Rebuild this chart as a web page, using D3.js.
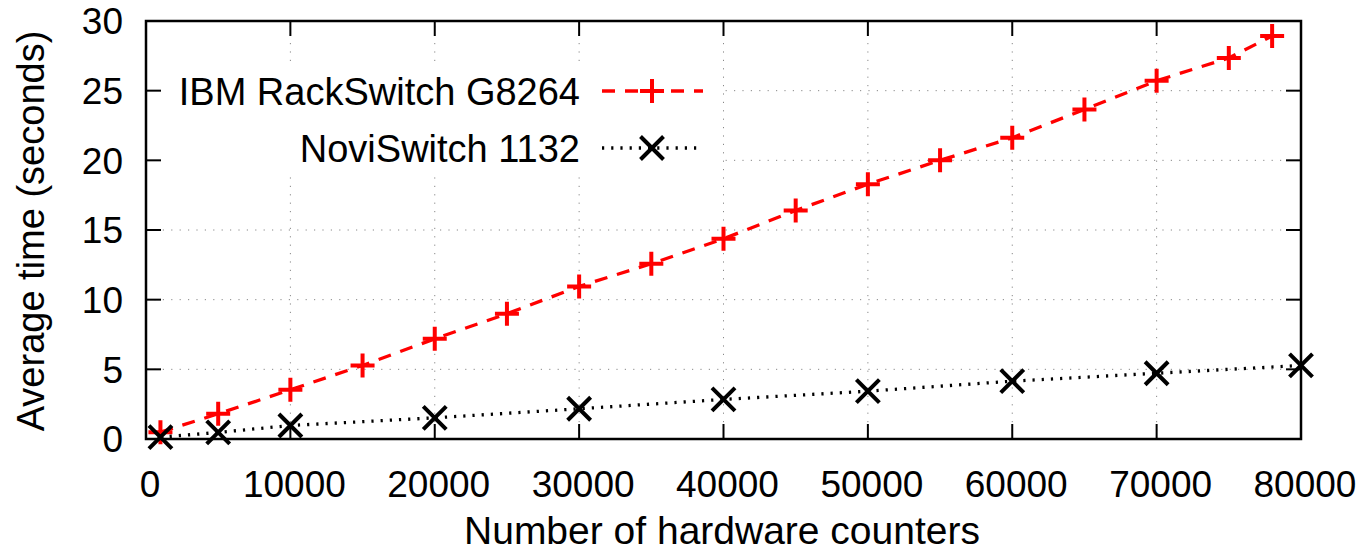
<!DOCTYPE html>
<html>
<head>
<meta charset="utf-8">
<script src="https://cdn.jsdelivr.net/npm/d3@7"></script>
<style>
  html, body { margin: 0; padding: 0; background: #fff; }
  svg { display: block; font-family: "Liberation Sans", Arial, Helvetica, sans-serif; }
</style>
</head>
<body>
<svg id="chart" width="1363" height="554"></svg>
<script>
// data
const ibmCounters = [1000, 5000, 10000, 15000, 20000, 25000, 30000, 35000, 40000, 45000,
  50000, 55000, 60000, 65000, 70000, 75000, 78000];
const ibmTimes = [0.49, 1.81, 3.53, 5.28, 7.19, 8.99, 10.95, 12.58, 14.37, 16.4,
  18.29, 20.0, 21.62, 23.65, 25.71, 27.35, 28.92];

const noviCounters = [1000, 5000, 10000, 20000, 30000, 40000, 50000, 60000, 70000, 80000];
const noviTimes = [0.13, 0.47, 0.97, 1.52, 2.17, 2.84, 3.43, 4.15, 4.72, 5.28];

const xTicks = [0, 10000, 20000, 30000, 40000, 50000, 60000, 70000, 80000];
const yTicks = [0, 5, 10, 15, 20, 25, 30];

const seriesNames = ["IBM RackSwitch G8264", "NoviSwitch 1132"];

const svg = d3.select("#chart");
const plotL = 146, plotR = 1301, plotT = 21, plotB = 439;

const x = d3.scaleLinear().domain([0, 80000]).range([plotL, plotR]);
const y = d3.scaleLinear().domain([0, 30]).range([plotB, plotT]);

// grid
const grid = svg.append("g")
  .attr("stroke", "#888")
  .attr("stroke-width", 1)
  .attr("stroke-dasharray", "1.2,7.2");
grid.selectAll(".gx")
  .data(xTicks.slice(1, -1))
  .join("line")
  .attr("x1", (d) => x(d)).attr("x2", (d) => x(d))
  .attr("y1", plotB).attr("y2", plotT);
grid.selectAll(".gy")
  .data(yTicks.slice(1, -1))
  .join("line")
  .attr("y1", (d) => y(d)).attr("y2", (d) => y(d))
  .attr("x1", plotL).attr("x2", plotR);

// legend background (opaque key)
svg.append("rect")
  .attr("x", plotL + 1).attr("y", 65)
  .attr("width", 575).attr("height", 111)
  .attr("fill", "#fff");

const series = [
  { name: seriesNames[0], xs: ibmCounters, ys: ibmTimes, color: "#ff0000", dash: "13,10", marker: "plus" },
  { name: seriesNames[1], xs: noviCounters, ys: noviTimes, color: "#000", dash: "2.2,7", marker: "cross" },
];

const line = d3.line().x((d) => x(d[0])).y((d) => y(d[1]));

function marker(g, kind, color) {
  const s = kind === "plus" ? 12 : 11.5;
  const p = kind === "plus"
    ? `M${-s},0H${s}M0,${-s}V${s}`
    : `M${-s},${-s}L${s},${s}M${-s},${s}L${s},${-s}`;
  g.append("path").attr("d", p).attr("stroke", color).attr("stroke-width", 4).attr("fill", "none");
}

series.forEach((s) => {
  const pts = s.xs.map((v, i) => [v, s.ys[i]]);
  svg.append("path")
    .datum(pts)
    .attr("d", line)
    .attr("fill", "none")
    .attr("stroke", s.color)
    .attr("stroke-width", 3.3)
    .attr("stroke-dasharray", s.dash);
  svg.append("g")
    .selectAll("g")
    .data(pts)
    .join("g")
    .attr("transform", (d) => `translate(${x(d[0])},${y(d[1])})`)
    .each(function () { marker(d3.select(this), s.marker, s.color); });
});

// legend
const legendRows = [91, 148];
series.forEach((s, i) => {
  const ly = legendRows[i];
  svg.append("text")
    .attr("x", 580).attr("y", ly)
    .attr("dy", "0.36em")
    .attr("text-anchor", "end")
    .attr("font-size", 38)
    .text(s.name);
  svg.append("line")
    .attr("x1", 602).attr("x2", 703)
    .attr("y1", ly).attr("y2", ly)
    .attr("stroke", s.color)
    .attr("stroke-width", 3.3)
    .attr("stroke-dasharray", s.dash);
  marker(svg.append("g").attr("transform", `translate(652,${ly})`), s.marker, s.color);
});

// axes (inward ticks, mirrored)
const tickLen = 15;
const axes = svg.append("g").attr("stroke", "#000").attr("stroke-width", 2);
axes.selectAll(".tb").data(xTicks).join("line")
  .attr("x1", (d) => x(d)).attr("x2", (d) => x(d))
  .attr("y1", plotB).attr("y2", plotB - tickLen);
axes.selectAll(".tt").data(xTicks).join("line")
  .attr("x1", (d) => x(d)).attr("x2", (d) => x(d))
  .attr("y1", plotT).attr("y2", plotT + tickLen);
axes.selectAll(".tl").data(yTicks).join("line")
  .attr("y1", (d) => y(d)).attr("y2", (d) => y(d))
  .attr("x1", plotL).attr("x2", plotL + tickLen);
axes.selectAll(".tr").data(yTicks).join("line")
  .attr("y1", (d) => y(d)).attr("y2", (d) => y(d))
  .attr("x1", plotR).attr("x2", plotR - tickLen);
svg.append("rect")
  .attr("x", plotL).attr("y", plotT)
  .attr("width", plotR - plotL).attr("height", plotB - plotT)
  .attr("fill", "none").attr("stroke", "#000").attr("stroke-width", 2.5);

// tick labels
svg.append("g").selectAll("text").data(xTicks).join("text")
  .attr("x", (d) => x(d) + 4).attr("y", 497)
  .attr("text-anchor", "middle")
  .attr("font-size", 37)
  .text((d) => d);
svg.append("g").selectAll("text").data(yTicks).join("text")
  .attr("x", 123).attr("y", (d) => y(d))
  .attr("dy", "0.36em")
  .attr("text-anchor", "end")
  .attr("font-size", 37)
  .text((d) => d);

// axis titles
svg.append("text")
  .attr("x", 722).attr("y", 544)
  .attr("text-anchor", "middle")
  .attr("font-size", 39)
  .text("Number of hardware counters");
svg.append("text")
  .attr("transform", "translate(44,231) rotate(-90)")
  .attr("text-anchor", "middle")
  .attr("font-size", 38)
  .text("Average time (seconds)");
</script>
</body>
</html>
